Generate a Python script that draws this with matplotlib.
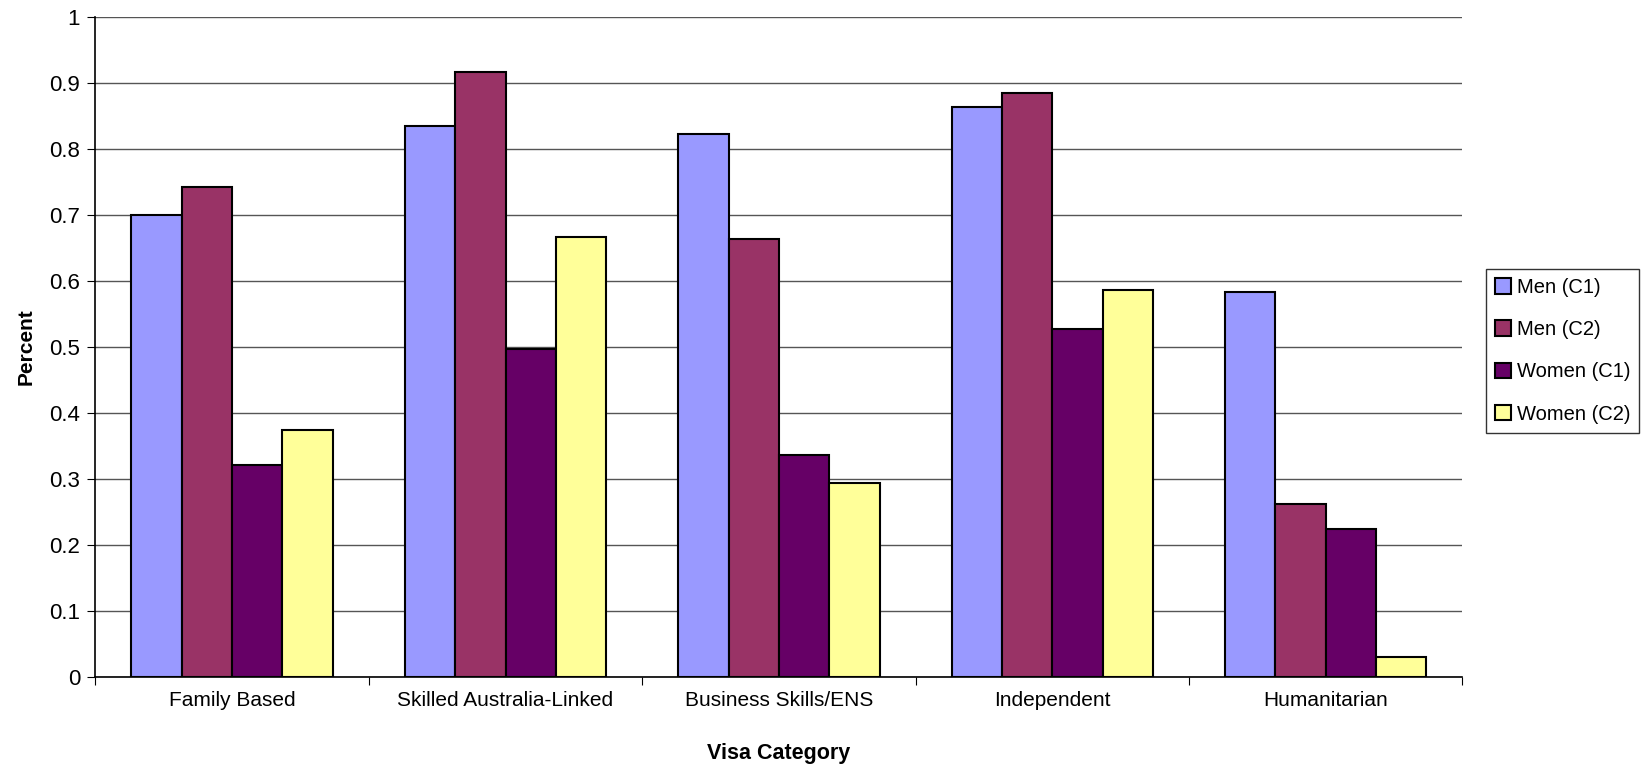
import matplotlib.pyplot as plt
import numpy as np
from matplotlib.ticker import FormatStrFormatter, FixedLocator

plt.rcParams["font.family"] = ["Liberation Sans", "DejaVu Sans"]

categories = [
    "Family Based",
    "Skilled Australia-Linked",
    "Business Skills/ENS",
    "Independent",
    "Humanitarian",
]
series_names = ["Men (C1)", "Men (C2)", "Women (C1)", "Women (C2)"]
men_c1 = [0.700, 0.834, 0.822, 0.863, 0.583]
men_c2 = [0.742, 0.917, 0.664, 0.884, 0.262]
women_c1 = [0.321, 0.497, 0.336, 0.528, 0.224]
women_c2 = [0.374, 0.666, 0.294, 0.587, 0.031]
colors = ["#9999FF", "#993366", "#660066", "#FFFF99"]


def draw_chart(save_name: str = "out.png") -> None:
    fig = plt.figure(figsize=(16.45, 7.66), dpi=100)
    ax = fig.add_axes([0.058, 0.116, 0.831, 0.862])

    x = np.arange(len(categories))
    width = 0.184
    all_series = [men_c1, men_c2, women_c1, women_c2]
    for i, (vals, name, col) in enumerate(zip(all_series, series_names, colors)):
        offset = (i - 1.5) * width
        ax.bar(
            x + offset,
            vals,
            width=width,
            color=col,
            edgecolor="black",
            linewidth=1.5,
            label=name,
            zorder=3,
        )

    ax.set_xlim(-0.5, len(categories) - 0.5)
    ax.set_ylim(0, 1)
    ax.yaxis.set_major_locator(FixedLocator(np.arange(0, 1.01, 0.1)))
    ax.yaxis.set_major_formatter(FormatStrFormatter("%g"))
    ax.grid(axis="y", color="#555555", linewidth=1.0, zorder=0)

    # tick marks between categories, labels centred
    ax.set_xticks(np.arange(-0.5, len(categories), 1.0))
    ax.set_xticklabels([])
    ax.set_xticks(x, minor=True)
    ax.set_xticklabels(categories, minor=True, fontsize=15)
    ax.tick_params(axis="x", which="minor", length=0, pad=10)
    ax.tick_params(axis="x", which="major", length=6, direction="out", color="black")
    ax.tick_params(axis="y", length=6, direction="out", labelsize=16, pad=5)

    for side in ["top", "right"]:
        ax.spines[side].set_visible(False)
    for side in ["left", "bottom"]:
        ax.spines[side].set_color("black")
        ax.spines[side].set_linewidth(1.2)

    ax.set_xlabel("Visa Category", fontsize=15.5, fontweight="bold", labelpad=24)
    ax.set_ylabel("Percent", fontsize=15, fontweight="bold", labelpad=10)

    leg = ax.legend(
        loc="upper left",
        bbox_to_anchor=(0.897, 0.662),
        bbox_transform=fig.transFigure,
        fontsize=14.5,
        frameon=True,
        fancybox=False,
        edgecolor="black",
        handlelength=0.8,
        handleheight=0.8,
        handletextpad=0.3,
        labelspacing=1.15,
        borderpad=0.45,
    )
    leg.get_frame().set_linewidth(1.0)

    fig.savefig(save_name, dpi=100)
    plt.close(fig)


draw_chart()
